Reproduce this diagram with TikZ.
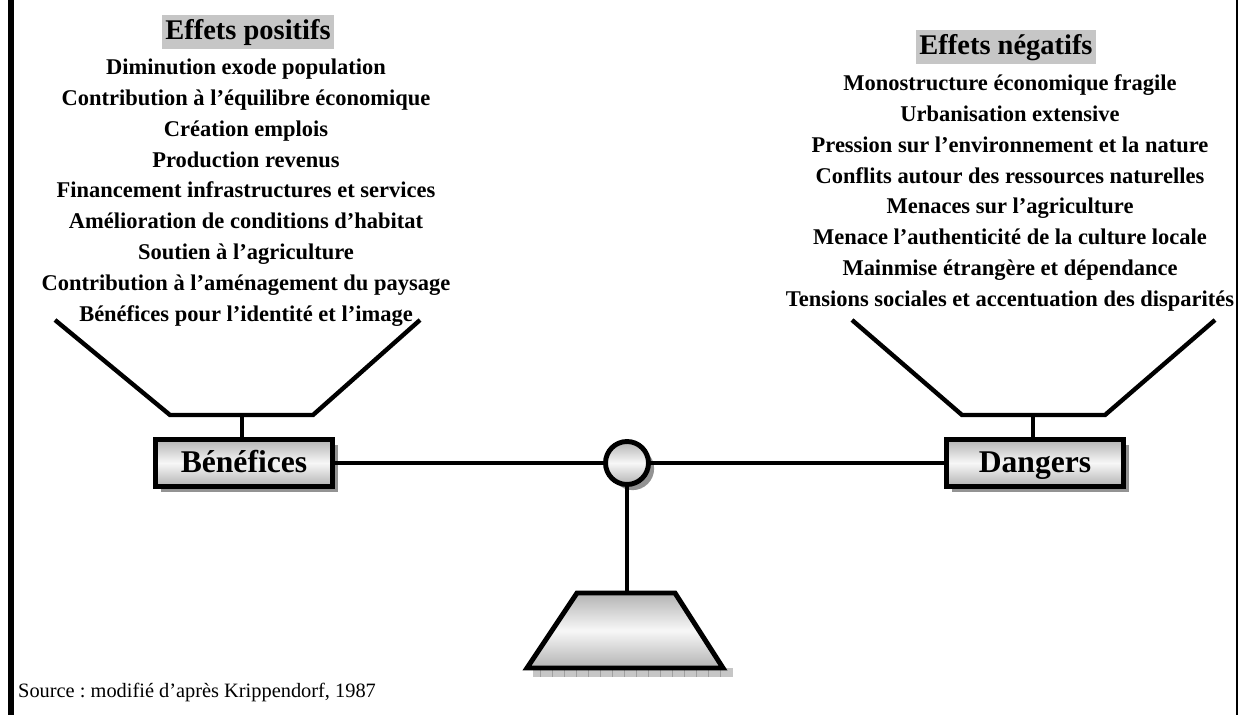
\documentclass[tikz,border=0pt]{standalone}
\usepackage{fontspec}
\usepackage{xcolor}
\setmainfont{Liberation Serif}
\frenchspacing
\usetikzlibrary{calc, shadows, positioning}

\tikzset{
  titre/.style={fill=gray!45, inner xsep=2pt, inner ysep=2.3pt,
    text height=11.4pt, text depth=3.4pt,
    font=\fontsize{16.2}{18}\selectfont\bfseries},
  effet/.style={inner sep=0pt, text height=8.5pt, text depth=0pt,
    font=\fontsize{12.8}{14}\selectfont\bfseries},
  degrade/.style={top color=gray!60, bottom color=gray!60, middle color=gray!6},
  ombre/.style={drop shadow={shadow xshift=3.2pt, shadow yshift=-3.2pt,
    fill=gray!85, opacity=1}},
  plateau/.style={draw, line width=2.8pt, degrade, ombre,
    minimum width=3.54cm, minimum height=0.94cm, inner sep=0pt,
    text height=11.2pt, text depth=0pt,
    font=\fontsize{18}{20}\selectfont\bfseries},
  pivot/.style={circle, draw, line width=2.8pt, degrade, ombre,
    minimum size=0.86cm, inner sep=0pt},
  source/.style={inner sep=0pt, font=\fontsize{11.6}{13}\selectfont}
}

\begin{document}
\begin{tikzpicture}[x=0.02cm, y=-0.02cm, line width=2.5pt]
    \useasboundingbox (0,0) rectangle (1240,715);

    % 1. Cadre
    \draw[line width=3.4pt] (11,0) -- (11,715);
    \draw[line width=1.2pt] (1237,0) -- (1237,715);

    % 2. Titres et listes des effets
    \node[titre] (pos) at (248,32) {Effets positifs};
    \foreach \t [count=\i] in {Diminution exode population,
        Contribution à l’équilibre économique, Création emplois,
        Production revenus, Financement infrastructures et services,
        Amélioration de conditions d’habitat, Soutien à l’agriculture,
        Contribution à l’aménagement du paysage,
        Bénéfices pour l’identité et l’image}
      \node[effet] (pos-\i) at (246,36.5+30.8*\i) {\t};

    \node[titre] (neg) at (1006,47) {Effets négatifs};
    \foreach \t [count=\i] in {Monostructure économique fragile,
        Urbanisation extensive, Pression sur l’environnement et la nature,
        Conflits autour des ressources naturelles, Menaces sur l’agriculture,
        Menace l’authenticité de la culture locale,
        Mainmise étrangère et dépendance,
        Tensions sociales et accentuation des disparités}
      \node[effet] (neg-\i) at (1010,52.5+30.8*\i) {\t};

    % 3. Fléau de la balance
    \node[plateau] (benef) at (244,463) {Bénéfices};
    \node[plateau] (dang) at (1035,463) {Dangers};
    \node[pivot] (axe) at (627,463) {};
    \draw (benef.east) -- (axe.west);
    \draw (axe.east) -- (dang.west);

    % 4. Plateaux
    \coordinate (pg) at (242,415);
    \coordinate (pd) at (1033,415);
    \draw (55,320) -- (170,415) -- (313,415) -- (420,320);
    \draw (852,320) -- (962,415) -- (1105,415) -- (1215,320);
    \draw (pg) -- (benef.north -| pg);
    \draw (pd) -- (dang.north -| pd);

    % 5. Socle
    \coordinate (socle) at (627,593);
    \draw (axe.south) -- (socle);
    \fill[gray!45] (533,668) rectangle (733,677);
    \foreach \x in {540,552,...,728}
      \draw[line width=0.3pt, gray!75] (\x,668) -- (\x,677);
    \draw[line width=2.8pt, degrade] (577,593) -- (675,593) -- (723,668)
        -- (527,668) -- cycle;

    % 6. Source
    \node[source, anchor=west] (src) at (16,692)
        {Source : modifié d’après Krippendorf, 1987};
\end{tikzpicture}
\end{document}
